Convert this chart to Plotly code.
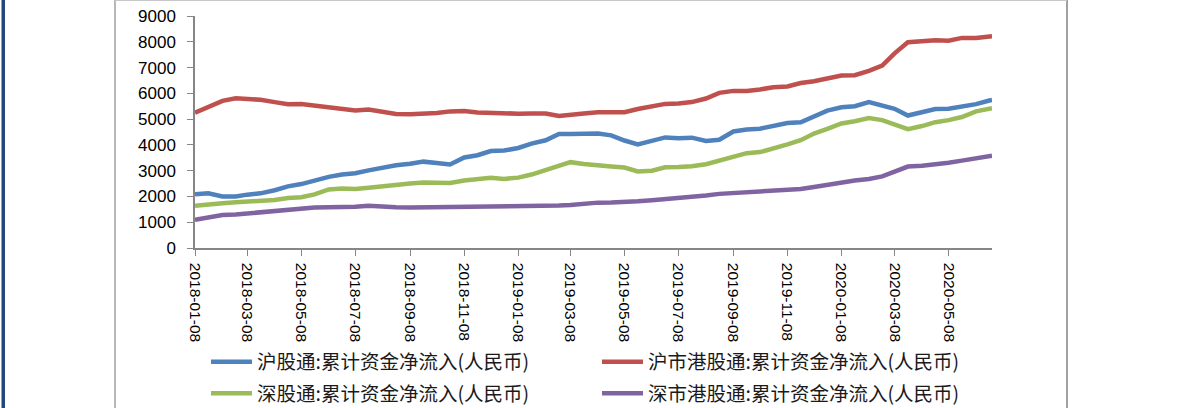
import plotly.graph_objects as go

# ---------------- data ----------------
dates = [
    "2018-01-08", "2018-01-23", "2018-02-08", "2018-02-23", "2018-03-08", "2018-03-23",
    "2018-04-08", "2018-04-23", "2018-05-08", "2018-05-23", "2018-06-08", "2018-06-23",
    "2018-07-08", "2018-07-23", "2018-08-08", "2018-08-23", "2018-09-08", "2018-09-23",
    "2018-10-08", "2018-10-23", "2018-11-08", "2018-11-23", "2018-12-08", "2018-12-23",
    "2019-01-08", "2019-01-23", "2019-02-08", "2019-02-23", "2019-03-08", "2019-03-23",
    "2019-04-08", "2019-04-23", "2019-05-08", "2019-05-23", "2019-06-08", "2019-06-23",
    "2019-07-08", "2019-07-23", "2019-08-08", "2019-08-23", "2019-09-08", "2019-09-23",
    "2019-10-08", "2019-10-23", "2019-11-08", "2019-11-23", "2019-12-08", "2019-12-23",
    "2020-01-08", "2020-01-23", "2020-02-08", "2020-02-23", "2020-03-08", "2020-03-23",
    "2020-04-08", "2020-04-23", "2020-05-08", "2020-05-23", "2020-06-08", "2020-06-23",
    "2020-06-26",
]

sh_connect = [  # 沪股通
    2080, 2120, 2000, 2000, 2070, 2120, 2240, 2390, 2480, 2630, 2760, 2850,
    2900, 3010, 3130, 3210, 3270, 3350, 3300, 3240, 3510, 3600, 3760, 3780,
    3880, 4050, 4180, 4420, 4420, 4420, 4440, 4370, 4170, 4020, 4170, 4290,
    4260, 4280, 4150, 4200, 4520, 4600, 4630, 4720, 4850, 4880, 5100, 5330,
    5460, 5500, 5660, 5520, 5400, 5140, 5280, 5390, 5400, 5470, 5580, 5720,
    5740,
]
sh_hk = [  # 沪市港股通
    5250, 5460, 5710, 5810, 5780, 5750, 5660, 5580, 5590, 5520, 5430, 5390,
    5330, 5370, 5290, 5200, 5190, 5210, 5240, 5300, 5310, 5260, 5230, 5240,
    5210, 5215, 5220, 5120, 5180, 5220, 5270, 5280, 5270, 5390, 5490, 5590,
    5610, 5660, 5800, 6020, 6095, 6090, 6150, 6235, 6265, 6400, 6470, 6580,
    6690, 6705, 6870, 7080, 7550, 7980, 8040, 8060, 8040, 8150, 8145, 8200,
    8210,
]
sz_connect = [  # 深股通
    1640, 1700, 1740, 1775, 1795, 1810, 1860, 1940, 1970, 2080, 2270, 2310,
    2290, 2340, 2400, 2470, 2500, 2540, 2540, 2520, 2620, 2660, 2720, 2680,
    2730, 2850, 3020, 3180, 3330, 3260, 3190, 3160, 3120, 2970, 3000, 3130,
    3140, 3170, 3250, 3380, 3530, 3680, 3720, 3850, 4020, 4180, 4440, 4620,
    4830, 4920, 5040, 4960, 4810, 4610, 4730, 4880, 4960, 5080, 5300, 5400,
    5420,
]
sz_hk = [  # 深市港股通
    1090, 1200, 1280, 1300, 1340, 1420, 1460, 1510, 1525, 1570, 1580, 1585,
    1600, 1640, 1600, 1580, 1575, 1580, 1585, 1585, 1590, 1585, 1585, 1595,
    1605, 1615, 1630, 1645, 1665, 1720, 1760, 1765, 1775, 1810, 1850, 1890,
    1930, 1975, 2040, 2100, 2130, 2150, 2170, 2200, 2240, 2290, 2370, 2460,
    2560, 2620, 2680, 2780, 2960, 3160, 3190, 3240, 3310, 3390, 3480, 3560,
    3575,
]

series_names = [
    "沪股通:累计资金净流入(人民币)",
    "沪市港股通:累计资金净流入(人民币)",
    "深股通:累计资金净流入(人民币)",
    "深市港股通:累计资金净流入(人民币)",
]
series_colors = ["#4F81BD", "#C0504D", "#9BBB59", "#8064A2"]

x_tick_labels = [
    "2018-01-08", "2018-03-08", "2018-05-08", "2018-07-08", "2018-09-08",
    "2018-11-08", "2019-01-08", "2019-03-08", "2019-05-08", "2019-07-08",
    "2019-09-08", "2019-11-08", "2020-01-08", "2020-03-08", "2020-05-08",
]
y_tick_values = [0, 1000, 2000, 3000, 4000, 5000, 6000, 7000, 8000, 9000]

# ---------------- figure ----------------
W, H = 1185, 408
L, R, T, B = 195, 193, 16, 160
PW, PH = W - L - R, H - T - B

def px(xp):
    return (xp - L) / PW

def py(yp):
    return (H - B - yp) / PH

fig = go.Figure()
all_values = [sh_connect, sh_hk, sz_connect, sz_hk]
legend_ids = ["legend", "legend2", "legend3", "legend4"]
# legend slot positions (left x, centre y) in pixels
legend_slots = [(206, 362), (597, 362), (206, 393.5), (597, 393.5)]

for name, vals, col, lg in zip(series_names, all_values, series_colors, legend_ids):
    fig.add_trace(go.Scatter(
        x=dates, y=vals, name=name, mode="lines",
        line=dict(color=col, width=4.5),
        legend=lg,
    ))

axis_color = "#868686"
font_family = "Liberation Sans, Arial, sans-serif"
cjk_family = "Noto Sans CJK SC, Noto Sans, sans-serif"

legend_layout = {}
for lg, (lx, ly) in zip(legend_ids, legend_slots):
    legend_layout[lg] = dict(
        orientation="h", xref="container", yref="container",
        x=lx / W, y=(H - ly) / H, xanchor="left", yanchor="middle",
        itemwidth=41,
        font=dict(family=cjk_family, size=19.5, color="#1a1a1a"),
        bgcolor="rgba(0,0,0,0)", borderwidth=0,
    )

fig.update_layout(
    width=W, height=H,
    margin=dict(l=L, r=R, t=T, b=B, autoexpand=False),
    paper_bgcolor="white", plot_bgcolor="white",
    showlegend=True,
    xaxis=dict(
        type="date",
        range=["2018-01-08", "2020-06-26"],
        tickvals=x_tick_labels, ticktext=x_tick_labels,
        tickangle=90,
        showgrid=False, zeroline=False,
        showline=True, linecolor=axis_color, linewidth=1.5,
        ticks="outside", ticklen=6, tickcolor=axis_color, tickwidth=1,
        tickfont=dict(family=font_family, size=15.5, color="#000000"),
        ticklabelstandoff=4,
    ),
    yaxis=dict(
        range=[0, 9000],
        tickvals=y_tick_values,
        showgrid=False, zeroline=False,
        showline=True, linecolor=axis_color, linewidth=1.5,
        ticks="outside", ticklen=6, tickcolor=axis_color, tickwidth=1,
        tickfont=dict(family=font_family, size=17, color="#000000"),
        ticklabelstandoff=8,
    ),
    **legend_layout,
)

# decorative frame (outer chart box and dark left edge)
frame_color = "#A0A0A0"
shapes = [
    dict(type="line", xref="paper", yref="paper", x0=px(115), x1=px(115), y0=py(0), y1=py(H),
         line=dict(color=frame_color, width=1.5)),
    dict(type="line", xref="paper", yref="paper", x0=px(1067), x1=px(1067), y0=py(0), y1=py(H),
         line=dict(color=frame_color, width=2)),
    dict(type="line", xref="paper", yref="paper", x0=px(115), x1=px(1067), y0=py(0.5), y1=py(0.5),
         line=dict(color="#C8C8C8", width=1)),
    dict(type="rect", xref="paper", yref="paper", x0=px(1.5), x1=px(5), y0=py(0), y1=py(H),
         line=dict(width=0), fillcolor="#1F497D"),
]
fig.update_layout(shapes=shapes)

fig.write_html(
    "out.html",
    config={"displayModeBar": False},
    post_script="document.body.style.margin='0';document.body.style.overflow='hidden';",
)
